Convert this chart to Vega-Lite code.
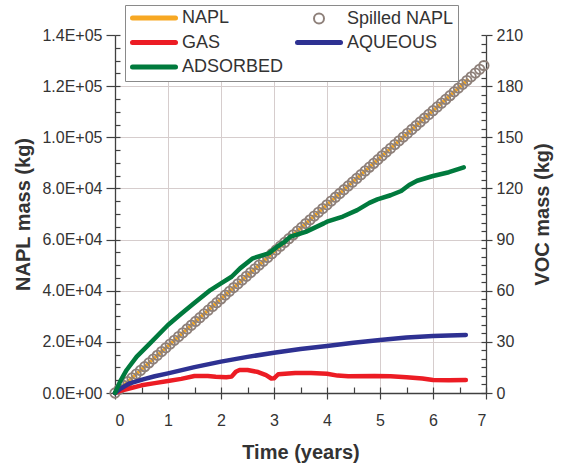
{
  "$schema": "https://vega.github.io/schema/vega-lite/v6.json",
  "width": 371,
  "height": 358,
  "autosize": "none",
  "padding": {"left": 115, "top": 35, "right": 76, "bottom": 76},
  "config": {
    "font": "Liberation Sans",
    "view": {"stroke": null},
    "axis": {
      "domainColor": "#404040",
      "tickColor": "#404040",
      "labelColor": "#333333",
      "titleColor": "#333333",
      "labelFontSize": 16,
      "titleFontSize": 20,
      "titleFontWeight": "bold",
      "gridColor": "#d6cdcd",
      "gridWidth": 1,
      "domainWidth": 1.3,
      "tickWidth": 1.2
    }
  },
  "datasets": {
    "napl": [
      {"s": "NAPL", "t": 0, "m": 0},
      {"s": "NAPL", "t": 1, "m": 18400},
      {"s": "NAPL", "t": 2, "m": 36800},
      {"s": "NAPL", "t": 3, "m": 55200},
      {"s": "NAPL", "t": 4, "m": 73600},
      {"s": "NAPL", "t": 5, "m": 92000},
      {"s": "NAPL", "t": 6, "m": 110400},
      {"s": "NAPL", "t": 6.65, "m": 122360}
    ],
    "spill": [
      {"s": "Spilled NAPL", "t": 0, "m": 0},
      {"s": "Spilled NAPL", "t": 0.08, "m": 1472},
      {"s": "Spilled NAPL", "t": 0.16, "m": 2944},
      {"s": "Spilled NAPL", "t": 0.24, "m": 4416},
      {"s": "Spilled NAPL", "t": 0.32, "m": 5888},
      {"s": "Spilled NAPL", "t": 0.4, "m": 7360},
      {"s": "Spilled NAPL", "t": 0.48, "m": 8832},
      {"s": "Spilled NAPL", "t": 0.56, "m": 10304},
      {"s": "Spilled NAPL", "t": 0.64, "m": 11776},
      {"s": "Spilled NAPL", "t": 0.72, "m": 13248},
      {"s": "Spilled NAPL", "t": 0.8, "m": 14720},
      {"s": "Spilled NAPL", "t": 0.88, "m": 16192},
      {"s": "Spilled NAPL", "t": 0.96, "m": 17664},
      {"s": "Spilled NAPL", "t": 1.04, "m": 19136},
      {"s": "Spilled NAPL", "t": 1.12, "m": 20608},
      {"s": "Spilled NAPL", "t": 1.2, "m": 22080},
      {"s": "Spilled NAPL", "t": 1.28, "m": 23552},
      {"s": "Spilled NAPL", "t": 1.36, "m": 25024},
      {"s": "Spilled NAPL", "t": 1.44, "m": 26496},
      {"s": "Spilled NAPL", "t": 1.52, "m": 27968},
      {"s": "Spilled NAPL", "t": 1.6, "m": 29440},
      {"s": "Spilled NAPL", "t": 1.68, "m": 30912},
      {"s": "Spilled NAPL", "t": 1.76, "m": 32384},
      {"s": "Spilled NAPL", "t": 1.84, "m": 33856},
      {"s": "Spilled NAPL", "t": 1.92, "m": 35328},
      {"s": "Spilled NAPL", "t": 2.0, "m": 36800},
      {"s": "Spilled NAPL", "t": 2.08, "m": 38272},
      {"s": "Spilled NAPL", "t": 2.16, "m": 39744},
      {"s": "Spilled NAPL", "t": 2.24, "m": 41216},
      {"s": "Spilled NAPL", "t": 2.32, "m": 42688},
      {"s": "Spilled NAPL", "t": 2.4, "m": 44160},
      {"s": "Spilled NAPL", "t": 2.48, "m": 45632},
      {"s": "Spilled NAPL", "t": 2.56, "m": 47104},
      {"s": "Spilled NAPL", "t": 2.64, "m": 48576},
      {"s": "Spilled NAPL", "t": 2.72, "m": 50048},
      {"s": "Spilled NAPL", "t": 2.8, "m": 51520},
      {"s": "Spilled NAPL", "t": 2.88, "m": 52992},
      {"s": "Spilled NAPL", "t": 2.96, "m": 54464},
      {"s": "Spilled NAPL", "t": 3.04, "m": 55936},
      {"s": "Spilled NAPL", "t": 3.12, "m": 57408},
      {"s": "Spilled NAPL", "t": 3.2, "m": 58880},
      {"s": "Spilled NAPL", "t": 3.28, "m": 60352},
      {"s": "Spilled NAPL", "t": 3.36, "m": 61824},
      {"s": "Spilled NAPL", "t": 3.44, "m": 63296},
      {"s": "Spilled NAPL", "t": 3.52, "m": 64768},
      {"s": "Spilled NAPL", "t": 3.6, "m": 66240},
      {"s": "Spilled NAPL", "t": 3.68, "m": 67712},
      {"s": "Spilled NAPL", "t": 3.76, "m": 69184},
      {"s": "Spilled NAPL", "t": 3.84, "m": 70656},
      {"s": "Spilled NAPL", "t": 3.92, "m": 72128},
      {"s": "Spilled NAPL", "t": 4.0, "m": 73600},
      {"s": "Spilled NAPL", "t": 4.08, "m": 75072},
      {"s": "Spilled NAPL", "t": 4.16, "m": 76544},
      {"s": "Spilled NAPL", "t": 4.24, "m": 78016},
      {"s": "Spilled NAPL", "t": 4.32, "m": 79488},
      {"s": "Spilled NAPL", "t": 4.4, "m": 80960},
      {"s": "Spilled NAPL", "t": 4.48, "m": 82432},
      {"s": "Spilled NAPL", "t": 4.56, "m": 83904},
      {"s": "Spilled NAPL", "t": 4.64, "m": 85376},
      {"s": "Spilled NAPL", "t": 4.72, "m": 86848},
      {"s": "Spilled NAPL", "t": 4.8, "m": 88320},
      {"s": "Spilled NAPL", "t": 4.88, "m": 89792},
      {"s": "Spilled NAPL", "t": 4.96, "m": 91264},
      {"s": "Spilled NAPL", "t": 5.04, "m": 92736},
      {"s": "Spilled NAPL", "t": 5.12, "m": 94208},
      {"s": "Spilled NAPL", "t": 5.2, "m": 95680},
      {"s": "Spilled NAPL", "t": 5.28, "m": 97152},
      {"s": "Spilled NAPL", "t": 5.36, "m": 98624},
      {"s": "Spilled NAPL", "t": 5.44, "m": 100096},
      {"s": "Spilled NAPL", "t": 5.52, "m": 101568},
      {"s": "Spilled NAPL", "t": 5.6, "m": 103040},
      {"s": "Spilled NAPL", "t": 5.68, "m": 104512},
      {"s": "Spilled NAPL", "t": 5.76, "m": 105984},
      {"s": "Spilled NAPL", "t": 5.84, "m": 107456},
      {"s": "Spilled NAPL", "t": 5.92, "m": 108928},
      {"s": "Spilled NAPL", "t": 6.0, "m": 110400},
      {"s": "Spilled NAPL", "t": 6.08, "m": 111872},
      {"s": "Spilled NAPL", "t": 6.16, "m": 113344},
      {"s": "Spilled NAPL", "t": 6.24, "m": 114816},
      {"s": "Spilled NAPL", "t": 6.32, "m": 116288},
      {"s": "Spilled NAPL", "t": 6.4, "m": 117760},
      {"s": "Spilled NAPL", "t": 6.48, "m": 119232},
      {"s": "Spilled NAPL", "t": 6.56, "m": 120704},
      {"s": "Spilled NAPL", "t": 6.64, "m": 122176},
      {"s": "Spilled NAPL", "t": 6.72, "m": 123648},
      {"s": "Spilled NAPL", "t": 6.8, "m": 125120},
      {"s": "Spilled NAPL", "t": 6.88, "m": 126592},
      {"s": "Spilled NAPL", "t": 6.96, "m": 128064}
    ],
    "voc": [
      {"s": "GAS", "t": 0, "v": 0},
      {"s": "GAS", "t": 0.1, "v": 1.2},
      {"s": "GAS", "t": 0.25, "v": 2.5},
      {"s": "GAS", "t": 0.5, "v": 4.5},
      {"s": "GAS", "t": 0.75, "v": 5.8},
      {"s": "GAS", "t": 1, "v": 7},
      {"s": "GAS", "t": 1.25, "v": 8.3},
      {"s": "GAS", "t": 1.5, "v": 10},
      {"s": "GAS", "t": 1.75, "v": 10},
      {"s": "GAS", "t": 1.9, "v": 9.5},
      {"s": "GAS", "t": 2.1, "v": 9.2},
      {"s": "GAS", "t": 2.2, "v": 9.6},
      {"s": "GAS", "t": 2.28, "v": 12.5},
      {"s": "GAS", "t": 2.35, "v": 13.5},
      {"s": "GAS", "t": 2.5, "v": 13.5},
      {"s": "GAS", "t": 2.7, "v": 12.3},
      {"s": "GAS", "t": 2.85, "v": 10.5},
      {"s": "GAS", "t": 2.95, "v": 8.5},
      {"s": "GAS", "t": 3.0, "v": 8.6},
      {"s": "GAS", "t": 3.08, "v": 11},
      {"s": "GAS", "t": 3.4, "v": 11.8},
      {"s": "GAS", "t": 3.7, "v": 11.8},
      {"s": "GAS", "t": 4.0, "v": 11.3},
      {"s": "GAS", "t": 4.2, "v": 10.2},
      {"s": "GAS", "t": 4.4, "v": 9.8},
      {"s": "GAS", "t": 4.9, "v": 10},
      {"s": "GAS", "t": 5.2, "v": 9.8},
      {"s": "GAS", "t": 5.5, "v": 9.3},
      {"s": "GAS", "t": 5.8, "v": 8.5},
      {"s": "GAS", "t": 6.0, "v": 7.6},
      {"s": "GAS", "t": 6.3, "v": 7.5},
      {"s": "GAS", "t": 6.62, "v": 7.6},
      {"s": "AQUEOUS", "t": 0, "v": 0},
      {"s": "AQUEOUS", "t": 0.1, "v": 2.5},
      {"s": "AQUEOUS", "t": 0.28, "v": 5.7},
      {"s": "AQUEOUS", "t": 0.53, "v": 8},
      {"s": "AQUEOUS", "t": 0.75, "v": 9.8},
      {"s": "AQUEOUS", "t": 1, "v": 11.5},
      {"s": "AQUEOUS", "t": 1.5, "v": 15.2},
      {"s": "AQUEOUS", "t": 2, "v": 18.4},
      {"s": "AQUEOUS", "t": 2.5, "v": 21.2},
      {"s": "AQUEOUS", "t": 3, "v": 23.6},
      {"s": "AQUEOUS", "t": 3.5, "v": 25.8},
      {"s": "AQUEOUS", "t": 4, "v": 27.6},
      {"s": "AQUEOUS", "t": 4.5, "v": 29.5},
      {"s": "AQUEOUS", "t": 5, "v": 31.1},
      {"s": "AQUEOUS", "t": 5.5, "v": 32.5},
      {"s": "AQUEOUS", "t": 6, "v": 33.4},
      {"s": "AQUEOUS", "t": 6.3, "v": 33.7},
      {"s": "AQUEOUS", "t": 6.62, "v": 34},
      {"s": "ADSORBED", "t": 0, "v": 0},
      {"s": "ADSORBED", "t": 0.1, "v": 7},
      {"s": "ADSORBED", "t": 0.22, "v": 13.5},
      {"s": "ADSORBED", "t": 0.41, "v": 21.3},
      {"s": "ADSORBED", "t": 0.66, "v": 29.1},
      {"s": "ADSORBED", "t": 1, "v": 39.9},
      {"s": "ADSORBED", "t": 1.25, "v": 46.5},
      {"s": "ADSORBED", "t": 1.49, "v": 52.6},
      {"s": "ADSORBED", "t": 1.8, "v": 60.4},
      {"s": "ADSORBED", "t": 2, "v": 64.3},
      {"s": "ADSORBED", "t": 2.2, "v": 68.2},
      {"s": "ADSORBED", "t": 2.36, "v": 73.1},
      {"s": "ADSORBED", "t": 2.6, "v": 79},
      {"s": "ADSORBED", "t": 2.9, "v": 81.9},
      {"s": "ADSORBED", "t": 3.06, "v": 85.8},
      {"s": "ADSORBED", "t": 3.2, "v": 88.7},
      {"s": "ADSORBED", "t": 3.31, "v": 91.7},
      {"s": "ADSORBED", "t": 3.6, "v": 94.5},
      {"s": "ADSORBED", "t": 3.94, "v": 99.5},
      {"s": "ADSORBED", "t": 4.0, "v": 100.5},
      {"s": "ADSORBED", "t": 4.3, "v": 103.5},
      {"s": "ADSORBED", "t": 4.57, "v": 107.3},
      {"s": "ADSORBED", "t": 4.8, "v": 111.5},
      {"s": "ADSORBED", "t": 4.95, "v": 113.6},
      {"s": "ADSORBED", "t": 5.2, "v": 116},
      {"s": "ADSORBED", "t": 5.4, "v": 118.5},
      {"s": "ADSORBED", "t": 5.55, "v": 122},
      {"s": "ADSORBED", "t": 5.7, "v": 124.5},
      {"s": "ADSORBED", "t": 6.0, "v": 127.3},
      {"s": "ADSORBED", "t": 6.3, "v": 129.5},
      {"s": "ADSORBED", "t": 6.58, "v": 132.4}
    ]
  },
  "layer": [
    {
      "data": {"name": "napl"},
      "mark": {"type": "line", "opacity": 0},
      "encoding": {
        "x": {
          "field": "t", "type": "quantitative",
          "scale": {"domain": [0, 7], "nice": false},
          "axis": {
            "orient": "bottom", "values": [0, 0.5, 1, 1.5, 2, 2.5, 3, 3.5, 4, 4.5, 5, 5.5, 6, 6.5, 7],
            "labels": false, "domain": false, "grid": false, "tickSize": -6, "title": null
          }
        },
        "y": {
          "field": "m", "type": "quantitative",
          "scale": {"domain": [0, 140000], "nice": false},
          "axis": {
            "orient": "left",
            "values": [0, 5000, 10000, 15000, 20000, 25000, 30000, 35000, 40000, 45000, 50000, 55000, 60000, 65000, 70000, 75000, 80000, 85000, 90000, 95000, 100000, 105000, 110000, 115000, 120000, 125000, 130000, 135000, 140000],
            "labels": false, "domain": false, "grid": false, "tickSize": -5, "title": null
          }
        }
      }
    },
    {
      "data": {"name": "voc"},
      "mark": {"type": "line", "opacity": 0},
      "encoding": {
        "x": {"field": "t", "type": "quantitative", "axis": null},
        "y": {
          "field": "v", "type": "quantitative",
          "scale": {"domain": [0, 210], "nice": false},
          "axis": {
            "orient": "right",
            "values": [0, 5, 10, 15, 20, 25, 30, 35, 40, 45, 50, 55, 60, 65, 70, 75, 80, 85, 90, 95, 100, 105, 110, 115, 120, 125, 130, 135, 140, 145, 150, 155, 160, 165, 170, 175, 180, 185, 190, 195, 200, 205, 210],
            "labels": false, "domain": false, "grid": false, "tickSize": -5, "title": null
          }
        },
        "detail": {"field": "s"}
      }
    },
    {
      "data": {"name": "napl"},
      "mark": {"type": "line", "strokeWidth": 3.5, "strokeCap": "round"},
      "encoding": {
        "x": {
          "field": "t", "type": "quantitative",
          "axis": {
            "orient": "bottom", "values": [0, 1, 2, 3, 4, 5, 6, 7], "format": "d",
            "grid": true, "tickSize": 6, "labelPadding": 13,
            "title": "Time (years)", "titlePadding": 14
          }
        },
        "y": {
          "field": "m", "type": "quantitative",
          "scale": {"domain": [0, 140000], "nice": false},
          "axis": {
            "orient": "left",
            "values": [0, 20000, 40000, 60000, 80000, 100000, 120000, 140000],
            "labelExpr": "upper(replace(format(datum.value, '.1e'), regexp('e\\\\+(\\\\d)$'), 'e+0$1'))",
            "grid": true,
            "gridOpacity": {"condition": {"test": "datum.value >= 140000", "value": 0}, "value": 1},
            "tickSize": 9, "labelPadding": 4,
            "title": "NAPL mass (kg)", "titlePadding": 8
          }
        },
        "color": {
          "field": "s", "type": "nominal",
          "scale": {
            "domain": ["NAPL", "Spilled NAPL", "GAS", "AQUEOUS", "ADSORBED"],
            "range": ["#F7A823", "#8E807A", "#EC1C24", "#2E3192", "#007A3D"]
          },
          "legend": {
            "orient": "none", "legendX": 10, "legendY": -30,
            "title": null, "columns": 2, "direction": "horizontal",
            "symbolType": "stroke", "symbolSize": 1849, "symbolStrokeWidth": 5,
            "labelFontSize": 18, "labelColor": "#333333", "labelOffset": 35,
            "strokeColor": "#8a8a8a", "fillColor": "white", "padding": 4,
            "rowPadding": 4.5, "columnPadding": 3,
            "encode": {
              "symbols": {
                "update": {
                  "shape": {"signal": "datum.value === 'Spilled NAPL' ? 'circle' : 'stroke'"},
                  "size": {"signal": "datum.value === 'Spilled NAPL' ? 100 : 1849"},
                  "strokeWidth": {"signal": "datum.value === 'Spilled NAPL' ? 2 : 5"},
                  "strokeCap": {"value": "round"},
                  "x": {"value": 25},
                  "fill": {"value": "transparent"},
                  "opacity": {"value": 1}
                }
              }
            }
          }
        }
      }
    },
    {
      "data": {"name": "spill"},
      "mark": {"type": "point", "filled": false, "strokeWidth": 1.8, "size": 90, "opacity": 1},
      "encoding": {
        "x": {"field": "t", "type": "quantitative", "axis": null},
        "y": {"field": "m", "type": "quantitative", "scale": {"domain": [0, 140000], "nice": false}, "axis": null},
        "color": {"field": "s", "type": "nominal"}
      }
    },
    {
      "data": {"name": "voc"},
      "mark": {"type": "line", "strokeWidth": 4.5, "strokeCap": "round", "strokeJoin": "round"},
      "encoding": {
        "x": {"field": "t", "type": "quantitative", "axis": null},
        "y": {
          "field": "v", "type": "quantitative",
          "scale": {"domain": [0, 210], "nice": false},
          "axis": {
            "orient": "right", "values": [0, 30, 60, 90, 120, 150, 180, 210],
            "grid": false, "tickSize": 6, "labelPadding": 4,
            "title": "VOC mass (kg)", "titleAngle": 270, "titleBaseline": "top", "titlePadding": 10
          }
        },
        "color": {"field": "s", "type": "nominal"}
      }
    }
  ],
  "resolve": {"scale": {"y": "independent"}, "axis": {"x": "independent", "y": "independent"}}
}
